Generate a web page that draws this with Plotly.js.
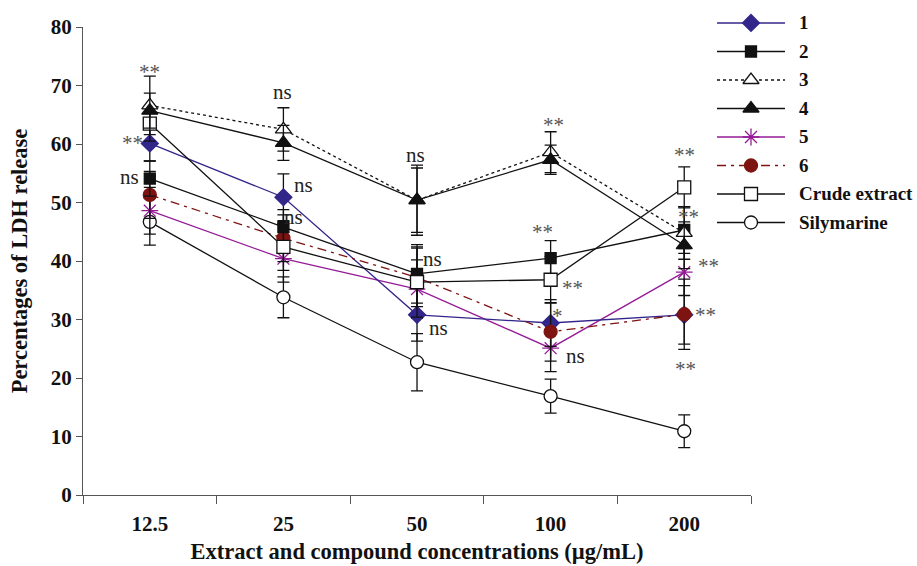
<!DOCTYPE html>
<html>
<head>
<meta charset="utf-8">
<script src="https://cdn.plot.ly/plotly-3.0.1.min.js"></script>
<style>html,body{margin:0;padding:0;background:#fff;}#chart{width:917px;height:566px;}</style>
</head>
<body>
<div id="chart"></div>
<script>
// ---- data ----
const categories = ['12.5', '25', '50', '100', '200'];
const seriesNames = ['1', '2', '3', '4', '5', '6', 'Crude extract', 'Silymarine'];

const s1 = [60.1, 50.9, 30.8, 29.4, 30.8];
const s2 = [54.1, 45.8, 37.8, 40.5, 45.3];
const s3 = [66.6, 62.5, 50.4, 58.6, 44.8];
const s4 = [65.7, 60.2, 50.4, 57.3, 42.7];
const s5 = [48.6, 40.4, 35.2, 25.1, 38.1];
const s6 = [51.3, 43.9, 37.2, 27.9, 30.9];
const sCrude = [63.5, 42.4, 36.4, 36.8, 52.6];
const sSily = [46.7, 33.8, 22.7, 16.9, 10.9];

const e1 = [3.0, 4.0, 4.5, 4.0, 5.0];
const e2 = [3.0, 3.0, 5.0, 3.0, 4.0];
const e3 = [5.0, 3.7, 6.0, 3.5, 4.5];
const e4 = [3.0, 3.0, 5.5, 2.5, 4.0];
const e5 = [4.0, 4.0, 5.0, 4.0, 4.0];
const e6 = [4.0, 4.0, 5.0, 5.0, 6.0];
const eCrude = [3.0, 4.0, 6.0, 4.0, 3.5];
const eSily = [4.0, 3.5, 4.9, 2.9, 2.8];

// significance labels: category, value, text
const sigCat  = ['12.5','12.5','12.5','25','25','25','50','50','50','100','100','100','100','100','200','200','200','200','200'];
const sigVal  = [72.6, 60.5, 54.0, 68.5, 52.6, 47.2, 57.8, 40.0, 28.2, 63.6, 45.3, 35.7, 31.0, 23.4, 58.5, 47.9, 39.5, 31.1, 21.9];
const sigText = ['**','**','ns','ns','ns','ns','ns','ns','ns','**','**','**','*','ns','**','**','**','**','**'];
const sigDx   = [0, -17, -20, -1, 20, 10, -2, 15, 21, 3, -8, 22, 7, 25, 0, 4, 24, 21, 1];

// ---- styles ----
const NAVY = '#33268a', PURPLE = '#951b97', DRED = '#7d1412';
const styles = [
  {color: NAVY,  dash: 'solid',   symbol: 'diamond',          mcolor: NAVY,  lcolor: NAVY,  size: 13},
  {color: '#111', dash: 'solid',  symbol: 'square',           mcolor: '#111', lcolor: '#111', size: 11},
  {color: '#111', dash: 'dot',    symbol: 'triangle-up',      mcolor: '#fff', lcolor: '#111', size: 14},
  {color: '#111', dash: 'solid',  symbol: 'triangle-up',      mcolor: '#111', lcolor: '#111', size: 14},
  {color: PURPLE, dash: 'solid',  symbol: 'asterisk-open',    mcolor: PURPLE, lcolor: PURPLE, size: 14},
  {color: DRED,  dash: '9px,5px,3px,5px', symbol: 'circle',   mcolor: DRED,  lcolor: DRED,  size: 13},
  {color: '#111', dash: 'solid',  symbol: 'square',           mcolor: '#fff', lcolor: '#111', size: 13},
  {color: '#111', dash: 'solid',  symbol: 'circle',           mcolor: '#fff', lcolor: '#111', size: 13}
];
const ys = [s1, s2, s3, s4, s5, s6, sCrude, sSily];
const es = [e1, e2, e3, e4, e5, e6, eCrude, eSily];

const traces = [];
// draw order: later on top
const order = [7, 4, 0, 5, 1, 6, 2, 3];
order.forEach(i => {
  const st = styles[i];
  traces.push({
    type: 'scatter', mode: 'lines+markers', name: seriesNames[i],
    x: categories, y: ys[i], xaxis: 'x', yaxis: 'y',
    line: {color: st.color, width: 1.3, dash: st.dash},
    marker: {symbol: st.symbol, size: st.size, color: st.mcolor, line: {color: st.lcolor, width: 1.3}},
    error_y: {type: 'data', array: es[i], visible: true, color: '#111', thickness: 1.3, width: 6},
    showlegend: false, cliponaxis: false
  });
});

// custom legend on helper axes
const annotations = [];
seriesNames.forEach((nm, i) => {
  const st = styles[i];
  traces.push({
    type: 'scatter', mode: 'lines', x: [0, 1], y: [-i, -i], xaxis: 'x2', yaxis: 'y2',
    line: {color: st.color, width: 1.3, dash: st.dash}, showlegend: false, hoverinfo: 'skip'
  });
  traces.push({
    type: 'scatter', mode: 'markers', x: [0.5], y: [-i], xaxis: 'x2', yaxis: 'y2',
    marker: {symbol: st.symbol, size: st.size, color: st.mcolor, line: {color: st.lcolor, width: 1.3}},
    showlegend: false, hoverinfo: 'skip', cliponaxis: false
  });
  annotations.push({
    xref: 'paper', yref: 'y2', x: 0.8561, y: -i, xanchor: 'left', yanchor: 'middle',
    text: nm, showarrow: false,
    font: {family: 'Liberation Serif, Times New Roman, serif', size: 19, color: '#111', weight: 'bold'}
  });
});

sigText.forEach((t, k) => {
  const star = t.indexOf('*') >= 0;
  annotations.push({
    xref: 'x', yref: 'y', x: categories.indexOf(sigCat[k]), y: sigVal[k], text: t, showarrow: false,
    xanchor: 'center', yanchor: 'middle', xshift: sigDx[k], yshift: (star ? -2 : 2),
    font: {family: 'Liberation Serif, Times New Roman, serif', size: 21, color: (star ? '#555' : '#222')}
  });
});

const tickFont = {family: 'Liberation Serif, Times New Roman, serif', size: 21, color: '#111', weight: 'bold'};
const titleFont = {family: 'Liberation Serif, Times New Roman, serif', size: 22.5, color: '#111', weight: 'bold'};

const layout = {
  width: 917, height: 566,
  margin: {l: 83, r: 0, t: 10, b: 71},
  paper_bgcolor: '#fff', plot_bgcolor: '#fff',
  showlegend: false,
  xaxis: {
    type: 'category', domain: [0, 0.801], range: [-0.5, 4.5],
    tickson: 'boundaries', ticks: 'outside', ticklen: 8, tickcolor: '#555', tickwidth: 1,
    showline: true, linecolor: '#555', linewidth: 1, showgrid: false, zeroline: false,
    tickfont: tickFont, ticklabelstandoff: 10,
    title: {text: 'Extract and compound concentrations (µg/mL)', font: titleFont, standoff: 8},
    anchor: 'y'
  },
  yaxis: {
    domain: [0, 0.9649], range: [0, 80], dtick: 10, tick0: 0,
    ticks: 'outside', ticklen: 6, tickcolor: '#555', tickwidth: 1,
    showline: true, linecolor: '#555', linewidth: 1, showgrid: false, zeroline: false,
    tickfont: tickFont,
    title: {text: 'Percentages of LDH release', font: titleFont, standoff: 16},
    anchor: 'x'
  },
  xaxis2: {domain: [0.7602, 0.8417], range: [0, 1], visible: false, anchor: 'y2', fixedrange: true},
  yaxis2: {domain: [0.5423, 0.9959], range: [-7.333, 0.386], visible: false, anchor: 'x2', fixedrange: true},
  annotations: annotations
};

Plotly.newPlot('chart', traces, layout, {displayModeBar: false, staticPlot: true});
</script>
</body>
</html>
